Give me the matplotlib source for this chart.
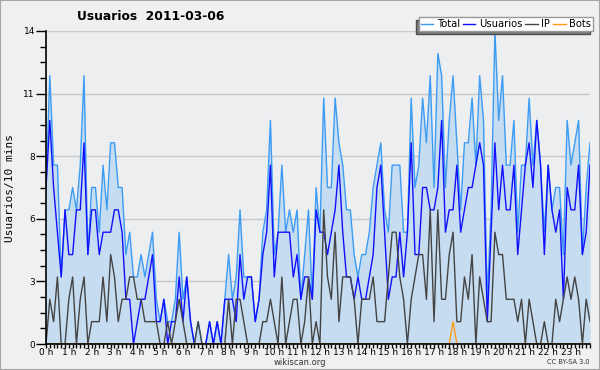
import numpy as np
import matplotlib
matplotlib.use("Agg")
import matplotlib.pyplot as plt
from matplotlib.ticker import FixedLocator, MultipleLocator
from matplotlib.patches import Rectangle

# 10-minute counts for 2011-03-06 (144 slots)
usuarios = [7, 10, 7, 5, 3, 6, 4, 4, 6, 6, 9, 4, 6, 6, 4, 5, 5, 5, 6, 6, 5, 2, 2, 0,
            1, 2, 2, 3, 4, 1, 1, 2, 0, 1, 1, 3, 1, 3, 1, 0, 0, 0, 0, 1, 0, 1, 0, 2,
            2, 2, 1, 4, 2, 3, 3, 1, 2, 4, 5, 8, 3, 5, 5, 5, 5, 3, 4, 2, 3, 3, 2, 6,
            5, 5, 4, 5, 6, 8, 5, 3, 3, 2, 3, 2, 2, 3, 4, 7, 8, 5, 2, 3, 3, 5, 3, 5,
            9, 4, 4, 7, 7, 6, 6, 7, 10, 5, 6, 6, 8, 5, 6, 7, 7, 8, 9, 8, 1, 5, 9, 6,
            8, 6, 6, 8, 4, 6, 8, 9, 7, 10, 8, 4, 8, 6, 5, 6, 2, 7, 6, 6, 8, 4, 5, 8]
ip = [0, 2, 1, 3, 0, 0, 2, 3, 0, 2, 3, 0, 1, 1, 1, 3, 1, 4, 3, 1, 2, 2, 3, 3,
      2, 2, 1, 1, 1, 1, 0, 0, 1, 0, 1, 2, 1, 0, 0, 0, 1, 0, 0, 0, 0, 0, 0, 0,
      2, 0, 2, 2, 1, 0, 0, 0, 0, 1, 1, 2, 1, 0, 3, 0, 1, 2, 2, 0, 1, 3, 0, 1,
      0, 6, 3, 2, 5, 1, 3, 3, 3, 2, 0, 2, 2, 2, 3, 1, 1, 1, 3, 5, 5, 3, 2, 0,
      2, 3, 4, 4, 2, 6, 1, 6, 2, 2, 4, 5, 1, 1, 3, 2, 4, 0, 3, 2, 1, 1, 5, 4,
      4, 2, 2, 2, 1, 2, 0, 2, 1, 0, 0, 1, 0, 0, 2, 1, 2, 3, 2, 3, 2, 0, 2, 1]
bots = [0, 0, 0, 0, 0, 0, 0, 0, 0, 0, 0, 0, 0, 0, 0, 0, 0, 0, 0, 0, 0, 0, 0, 0,
        0, 0, 0, 0, 0, 0, 0, 0, 0, 0, 0, 0, 0, 0, 0, 0, 0, 0, 0, 0, 0, 0, 0, 0,
        0, 0, 0, 0, 0, 0, 0, 0, 0, 0, 0, 0, 0, 0, 0, 0, 0, 0, 0, 0, 0, 0, 0, 0,
        0, 0, 0, 0, 0, 0, 0, 0, 0, 0, 0, 0, 0, 0, 0, 0, 0, 0, 0, 0, 0, 0, 0, 0,
        0, 0, 0, 0, 0, 0, 0, 0, 0, 0, 0, 1, 0, 0, 0, 0, 0, 0, 0, 0, 0, 0, 0, 0,
        0, 0, 0, 0, 0, 0, 0, 0, 0, 0, 0, 0, 0, 0, 0, 0, 0, 0, 0, 0, 0, 0, 0, 0]
total = [7, 12, 8, 8, 3, 6, 6, 7, 6, 8, 12, 4, 7, 7, 5, 8, 6, 9, 9, 7, 7, 4, 5, 3,
         3, 4, 3, 4, 5, 2, 1, 2, 1, 1, 2, 5, 2, 3, 1, 0, 1, 0, 0, 1, 0, 1, 0, 2,
         4, 2, 3, 6, 3, 3, 3, 1, 2, 5, 6, 10, 4, 5, 8, 5, 6, 5, 6, 2, 4, 6, 2, 7,
         5, 11, 7, 7, 11, 9, 8, 6, 6, 4, 3, 4, 4, 5, 7, 8, 9, 6, 5, 8, 8, 8, 5, 5,
         11, 7, 8, 11, 9, 12, 7, 13, 12, 7, 10, 12, 9, 6, 9, 9, 11, 8, 12, 10, 2, 6, 14, 10,
         12, 8, 8, 10, 5, 8, 8, 11, 8, 10, 8, 5, 8, 6, 7, 7, 4, 10, 8, 9, 10, 4, 7, 9]

hour_labels = ["%d h" % h for h in range(24)]
ymax = 14

x = np.arange(len(total))

fig = plt.figure(figsize=(6, 3.7), dpi=100, facecolor="#f0f0f0")
ax = fig.add_axes([46/600, 26/370, 544/600, 313/370])
ax.set_facecolor("#edeef0")

# frame around the whole picture
fig.patches.append(Rectangle((0, 0), 1, 1, transform=fig.transFigure,
                             fill=False, edgecolor="#a8a8a8", lw=1.5))

ax.fill_between(x, total, color="#c6dcf0", lw=0, zorder=1)
ax.plot(x, total, color="#3c9cf4", lw=1.0, label="Total", zorder=3)
ax.plot(x, usuarios, color="#1010ff", lw=1.0, label="Usuarios", zorder=4)
ax.plot(x, ip, color="#444444", lw=1.0, label="IP", zorder=5)
ax.plot(x, bots, color="#ff9a1a", lw=1.0, label="Bots", zorder=6)

ax.set_xlim(0, len(total) - 1)
ax.set_ylim(0, ymax)

# hour ticks, one minor tick per 10 minutes
ax.xaxis.set_major_locator(FixedLocator(np.arange(0, len(total), 6)))
ax.set_xticklabels(hour_labels)
ax.xaxis.set_minor_locator(MultipleLocator(1))
ax.tick_params(axis="x", which="both", length=3, width=1, pad=0,
               labelsize=6.5, colors="black")

yt = np.linspace(0, ymax, 6)
ax.set_yticks(yt)
ax.set_yticklabels(["%d" % round(v) for v in yt])
ax.yaxis.set_minor_locator(MultipleLocator(ymax / 20))
ax.tick_params(axis="y", which="major", length=7, width=1, pad=1, labelsize=6.5)
ax.tick_params(axis="y", which="minor", length=4, width=1)

ax.grid(axis="y", which="major", color="#c8c8c8", lw=1, zorder=0)
ax.set_axisbelow(True)
for s in ["top", "right"]:
    ax.spines[s].set_visible(False)
for s in ["left", "bottom"]:
    ax.spines[s].set_linewidth(1.2)
    ax.spines[s].set_zorder(10)

ax.set_ylabel("Usuarios/10 mins", family="DejaVu Sans Mono", fontsize=8, labelpad=6)

fig.text(151/600, 1 - 16/370, "Usuarios  2011-03-06", ha="center", va="center",
         fontsize=8.8, fontweight="bold")
fig.text(0.5, 1 - 362.5/370, "wikiscan.org", ha="center", va="center", fontsize=6,
         color="#333333")
fig.text(590/600, 1 - 362.5/370, "CC BY-SA 3.0", ha="right", va="center", fontsize=4.8,
         color="#333333")

leg = fig.legend(loc="upper right", bbox_to_anchor=(593/600, 1 - 17/370), ncol=4,
                 fontsize=7.2, frameon=True, fancybox=False, handlelength=1.25,
                 handletextpad=0.35, columnspacing=0.3, borderpad=0.2,
                 borderaxespad=0,
                 shadow={"ox": -2.2, "oy": -2.2, "facecolor": "#7a7a7a", "alpha": 1})
leg.get_frame().set_edgecolor("#999999")
leg.get_frame().set_linewidth(1)

fig.savefig("out.png", dpi=100, facecolor=fig.get_facecolor())
